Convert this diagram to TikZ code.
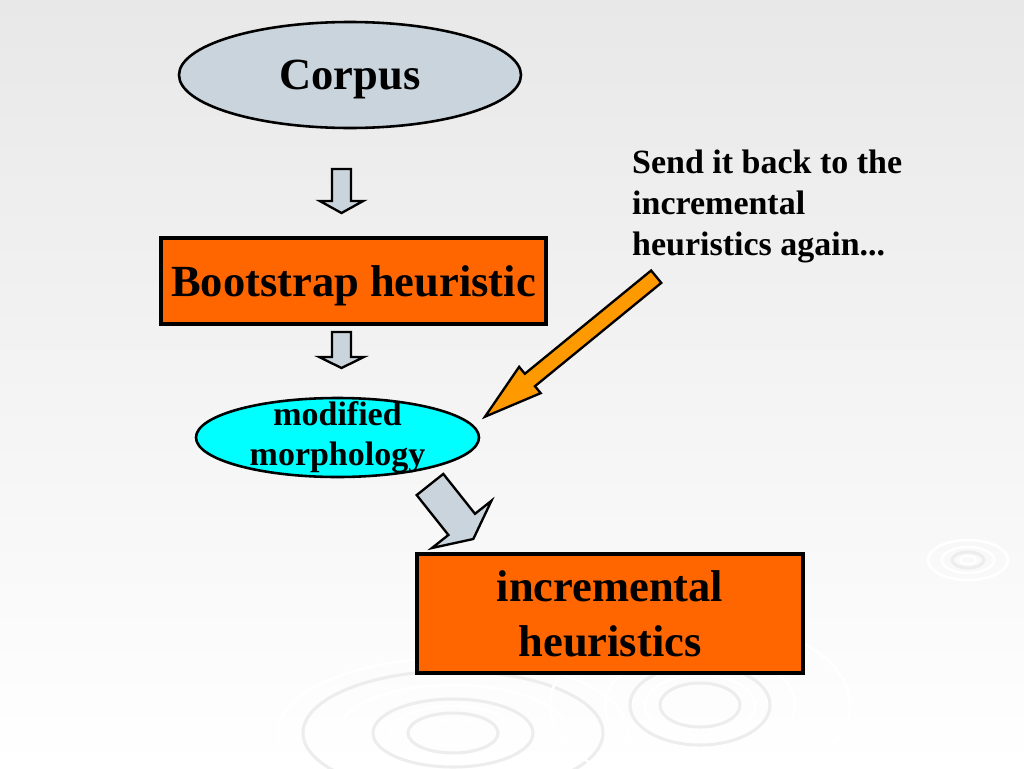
\documentclass[tikz,border=0pt]{standalone}
\usepackage{fontspec}
\setmainfont{Liberation Serif}
\usepackage{tikz}
\usetikzlibrary{positioning, calc, shapes.geometric}
\definecolor{corpusgray}{RGB}{202,212,220}
\definecolor{boxorange}{RGB}{255,102,0}
\definecolor{arrorange}{RGB}{255,153,0}
\definecolor{morphcyan}{RGB}{0,255,255}
\tikzset{
  pnode/.style={draw, line width=2.2pt, align=center, font=\bfseries, inner sep=0pt},
  oval/.style={pnode, ellipse},
  box/.style={pnode, rectangle, line width=2.8pt, fill=boxorange},
  bigtext/.style={font=\bfseries\fontsize{38}{47}\selectfont, text depth=0pt},
  midtext/.style={font=\bfseries\fontsize{29}{34}\selectfont},
  note/.style={align=left, inner sep=0pt, font=\bfseries\fontsize{29}{35}\selectfont},
  blk/.style={draw, line width=2pt, line join=miter},
  ripple/.style={draw=white, line width=2.2pt},
  rippledark/.style={draw=gray!14, line width=2.6pt},
}
% block arrow: tail, tip, shaft half width, head half width, head length, fill
\newcommand{\blockarrow}[6]{%
  \coordinate (ba-base) at ($(#2)!#5!(#1)$);
  \draw[blk, fill=#6] ($(#1)!#3!90:(#2)$) -- ($(ba-base)!#3!-90:(#1)$)
    -- ($(ba-base)!#4!-90:(#1)$) -- (#2) -- ($(ba-base)!#4!90:(#1)$)
    -- ($(ba-base)!#3!90:(#1)$) -- ($(#1)!#3!-90:(#2)$) -- cycle;
}

\begin{document}
\begin{tikzpicture}[x=0.3mm, y=-0.3mm]
\useasboundingbox (0,0) rectangle (1024,768);
% slide background
\shade[top color=gray!18, middle color=gray!13, bottom color=white] (0,0) rectangle (1024,768);
% ripples
\foreach \rx/\ry in {45/20, 80/34, 150/62}
  \draw[rippledark] (453,733) ellipse ({\rx} and {\ry});
\foreach \rx/\ry in {30/13, 62/27, 115/48, 175/75}
  \draw[ripple] (453,733) ellipse ({\rx} and {\ry});
\foreach \rx/\ry in {40/22, 70/40}
  \draw[rippledark] (700,705) ellipse ({\rx} and {\ry});
\foreach \rx/\ry in {55/30, 95/55, 150/85}
  \draw[ripple] (700,705) ellipse ({\rx} and {\ry});
\draw[rippledark] (968,560) ellipse (16 and 8);
\foreach \rx/\ry in {8/4, 26/13, 40/20}
  \draw[ripple] (968,560) ellipse ({\rx} and {\ry});

% connectors
\coordinate (a1t) at (341.5,169);
\coordinate (a1h) at (341.5,213);
\coordinate (a2t) at (341.5,332);
\coordinate (a2h) at (341.5,368);
\coordinate (a3t) at (430,484.5);
\coordinate (a3h) at (473.3,539);
\coordinate (fbt) at (656.2,276.7);
\coordinate (fbh) at (485,416.7);
\blockarrow{a1t}{a1h}{2.85mm}{6.5mm}{3.6mm}{corpusgray}
\blockarrow{a2t}{a2h}{2.85mm}{6.7mm}{3.3mm}{corpusgray}
\blockarrow{a3t}{a3h}{5.1mm}{11.4mm}{5.6mm}{corpusgray}
\blockarrow{fbt}{fbh}{2.4mm}{5.1mm}{17.4mm}{arrorange}

% nodes
\node[oval, fill=corpusgray, bigtext, minimum width=102.6mm, minimum height=31.8mm] (corpus) at (350,75) {Corpus};
\node[box, bigtext, minimum width=115.5mm, minimum height=25.8mm] (boot) at (353.5,281) {Bootstrap heuristic};
\node[oval, fill=morphcyan, midtext, inner ysep=-5mm, minimum width=84.9mm, minimum height=23.7mm] (morph) at (337.5,437.5) {modified\\morphology};
\node[box, bigtext, minimum width=115.8mm, minimum height=35.7mm] (incr) at (610,613.5) {incremental\\heuristics};
\node[note, anchor=north west] (back) at (632,150) {Send it back to the\\incremental\\heuristics again...};
\end{tikzpicture}
\end{document}
